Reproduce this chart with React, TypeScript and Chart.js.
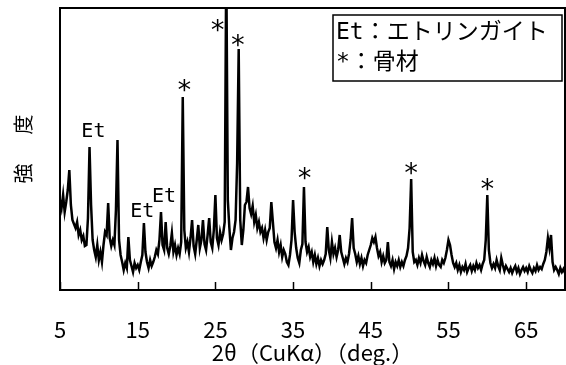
import { useEffect, useRef } from "react";
import { Chart, registerables } from "chart.js";

Chart.register(...registerables);

// 2θ grid: START, START+STEP, ... (deg.)
const START = 5;
const STEP = 0.2;

// intensity (arbitrary units), one value per 0.2° from 5.0 to 70.0
const intensity = [
  90, 82, 95, 78, 88, 100, 120, 85, 70, 66, // 5.0-6.8
  62, 68, 55, 60, 50, 54, 44, 45, 72, 143, // 7.0-8.8
  85, 50, 40, 33, 45, 30, 38, 28, 45, 58, // 9.0-10.8
  55, 87, 52, 44, 50, 45, 80, 150, 50, 35, // 11.0-12.8
  28, 20, 27, 22, 53, 30, 24, 18, 27, 22, // 13.0-14.8
  25, 20, 28, 35, 67, 38, 28, 22, 30, 24, // 15.0-16.8
  28, 33, 40, 36, 50, 78, 45, 40, 68, 42, // 17.0-18.8
  36, 44, 57, 38, 45, 35, 42, 36, 48, 193, // 19.0-20.8
  60, 42, 48, 38, 52, 70, 44, 36, 50, 65, // 21.0-22.8
  42, 50, 70, 46, 40, 55, 72, 48, 42, 60, // 23.0-24.8
  95, 52, 45, 58, 50, 56, 68, 330, 90, 62, // 25.0-26.8
  40, 52, 58, 70, 127, 241, 70, 45, 60, 85, // 27.0-28.8
  88, 103, 82, 76, 84, 68, 75, 62, 68, 58, // 29.0-30.8
  62, 52, 60, 50, 58, 62, 88, 68, 48, 42, // 31.0-32.8
  50, 38, 45, 33, 40, 36, 28, 25, 35, 50, // 33.0-34.8
  90, 58, 42, 32, 27, 40, 46, 103, 48, 38, // 35.0-36.8
  43, 33, 38, 28, 35, 26, 32, 24, 30, 26, // 37.0-38.8
  30, 36, 63, 40, 32, 48, 36, 42, 33, 40, // 39.0-40.8
  55, 38, 32, 26, 32, 28, 36, 50, 72, 42, // 41.0-42.8
  36, 28, 34, 26, 32, 24, 30, 27, 35, 40, // 43.0-44.8
  45, 52, 48, 53, 42, 34, 38, 28, 34, 27, // 45.0-46.8
  30, 48, 28, 24, 30, 21, 28, 24, 30, 23, // 47.0-48.8
  28, 24, 30, 34, 42, 62, 111, 38, 28, 30, // 49.0-50.8
  25, 32, 27, 35, 29, 25, 33, 27, 23, 30, // 51.0-52.8
  26, 32, 24, 30, 25, 23, 30, 27, 32, 40, // 53.0-54.8
  50, 45, 35, 27, 23, 27, 20, 25, 18, 23, // 55.0-56.8
  20, 26, 18, 22, 25, 19, 24, 20, 27, 22, // 57.0-58.8
  25, 20, 26, 30, 50, 95, 40, 27, 22, 26, // 59.0-60.8
  22, 30, 24, 20, 32, 25, 19, 24, 21, 18, // 61.0-62.8
  22, 17, 21, 24, 18, 22, 16, 20, 23, 19, // 63.0-64.8
  22, 18, 24, 20, 17, 22, 19, 25, 20, 23, // 65.0-66.8
  21, 26, 30, 38, 52, 42, 55, 28, 20, 23, // 67.0-68.8
  20, 16, 22, 18, 21, 17, // 69.0-70.0
];

const xTicks = [5, 15, 25, 35, 45, 55, 65];

// peak markers (label, 2θ, intensity where the label sits)
const markLabels = ["Et", "Et", "Et", "*", "*", "*", "*", "*", "*"];
const markX = [9.3, 15.6, 18.4, 21.0, 25.3, 27.9, 36.5, 50.2, 60.0];
const markY = [160, 80, 95, 205, 265, 250, 117, 122, 106];

const legendLines = ["Et：エトリンガイト", "*：骨材"];

const X_TITLE = "2θ（CuKα）（deg.）";
const Y_TITLE = "強　  度";

const SANS = '"Noto Sans CJK JP", sans-serif';
const MONO = '"DejaVu Sans Mono", "Noto Sans CJK JP", monospace';

const decor = {
  id: "decor",
  afterDatasetsDraw(chart: any) {
    const { ctx, chartArea: a, scales } = chart;
    const xs = scales.x;
    const ys = scales.y;
    ctx.save();
    ctx.strokeStyle = "#000";
    ctx.fillStyle = "#000";
    // frame
    ctx.lineWidth = 2;
    ctx.strokeRect(a.left, a.top, a.right - a.left, a.bottom - a.top);
    // inward tick marks
    ctx.lineWidth = 1.5;
    for (const t of xTicks) {
      const px = Math.round(xs.getPixelForValue(t)) + 0.5;
      ctx.beginPath();
      ctx.moveTo(px, a.bottom);
      ctx.lineTo(px, a.bottom - 8);
      ctx.stroke();
    }
    // peak markers
    ctx.textAlign = "center";
    ctx.textBaseline = "alphabetic";
    for (let i = 0; i < markLabels.length; i++) {
      const txt = markLabels[i];
      ctx.font = txt === "*" ? `27px ${MONO}` : `20px ${MONO}`;
      const m = ctx.measureText(txt);
      const cx = xs.getPixelForValue(markX[i]);
      const cy = ys.getPixelForValue(markY[i]);
      const base = cy + (m.actualBoundingBoxAscent - m.actualBoundingBoxDescent) / 2;
      ctx.fillText(txt, cx, base);
    }
    // legend box
    const lx = a.right - 232;
    const ly = a.top + 7;
    const lw = 229;
    const lh = 66;
    ctx.fillStyle = "#fff";
    ctx.fillRect(lx, ly, lw, lh);
    ctx.lineWidth = 1.5;
    ctx.strokeRect(lx, ly, lw, lh);
    ctx.fillStyle = "#000";
    ctx.textAlign = "left";
    ctx.textBaseline = "middle";
    ctx.font = `23px ${MONO}`;
    legendLines.forEach((line, i) => {
      ctx.fillText(line, lx + 3, ly + 18 + i * 30);
    });
    ctx.restore();
  },
};

export default function App() {
  const ref = useRef<HTMLCanvasElement>(null);
  useEffect(() => {
    const data = intensity.map((v, i) => ({ x: START + i * STEP, y: v }));
    const chart = new Chart(ref.current as HTMLCanvasElement, {
      type: "line",
      data: {
        datasets: [
          {
            data,
            borderColor: "#000",
            borderWidth: 2.5,
            pointRadius: 0,
            tension: 0,
            fill: false,
          },
        ],
      },
      options: {
        animation: false,
        responsive: false,
        devicePixelRatio: 1,
        layout: { padding: { top: 8, right: 1, left: 0, bottom: 0 } },
        plugins: { legend: { display: false }, tooltip: { enabled: false } },
        scales: {
          x: {
            type: "linear",
            min: 5,
            max: 70,
            afterBuildTicks: (s: any) => {
              s.ticks = xTicks.map((v) => ({ value: v }));
            },
            afterFit: (s: any) => {
              s.height = 75;
            },
            grid: { display: false, drawTicks: false },
            border: { display: false },
            ticks: {
              color: "#000",
              font: { family: SANS, size: 22 },
              padding: 26,
              maxRotation: 0,
              autoSkip: false,
            },
            title: {
              display: true,
              text: X_TITLE,
              color: "#000",
              font: { family: SANS, size: 22, lineHeight: 1 },
              padding: { top: 0, bottom: 1 },
            },
          },
          y: {
            min: 0,
            max: 282,
            ticks: { display: false },
            grid: { display: false, drawTicks: false },
            border: { display: false },
            afterFit: (s: any) => {
              s.width = 60;
            },
            title: {
              display: true,
              text: Y_TITLE,
              color: "#000",
              font: { family: SANS, size: 20, lineHeight: 1.2 },
              padding: { top: 11, bottom: 0 },
            },
          },
        },
      },
      plugins: [decor],
    } as any);
    return () => chart.destroy();
  }, []);
  return (
    <div style={{ position: "fixed", left: 0, top: 0, width: 566, height: 365, background: "#fff" }}>
      <canvas ref={ref} width={566} height={365} style={{ width: 566, height: 365, display: "block" }} />
    </div>
  );
}
